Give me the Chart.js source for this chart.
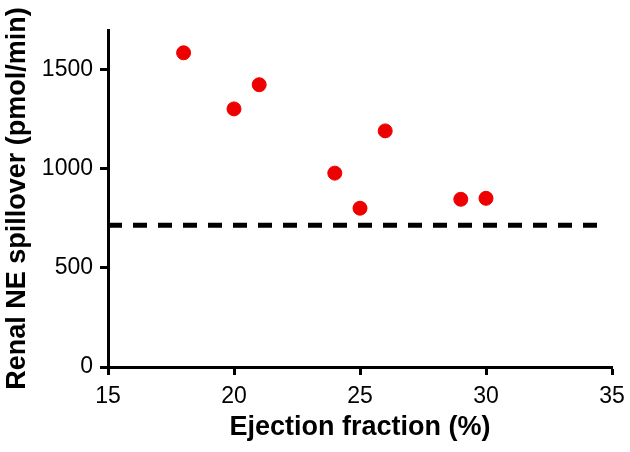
<!DOCTYPE html>
<html>
<head>
<meta charset="utf-8">
<script src="https://cdn.jsdelivr.net/npm/chart.js@4"></script>
<style>
  html, body { margin: 0; padding: 0; background: #fff; }
  #wrap { width: 630px; height: 452px; }
</style>
</head>
<body>
<div id="wrap"><canvas id="chart" width="630" height="452"></canvas></div>
<script>
// Datos
const ejectionFraction = [18, 20, 21, 24, 25, 26, 29, 30]
const neSpillover = [1585, 1302, 1424, 978, 801, 1191, 846, 851]

// Línea de referencia (discontinua)
const refX = [15, 34.6]
const refY = [715, 715]

const xTicks = [15, 20, 25, 30, 35]
const yTicks = [0, 500, 1000, 1500]

const font = 'Liberation Sans, Arial, sans-serif'

const ctx = document.getElementById('chart').getContext('2d')

new Chart(ctx, {
  type: 'scatter',
  data: {
    datasets: [
      {
        label: 'Ref',
        type: 'line',
        data: refX.map((x, i) => ({ x, y: refY[i] })),
        borderColor: '#000',
        borderWidth: 5,
        borderDash: [14, 11],
        pointRadius: 0,
        fill: false,
        order: 2,
      },
      {
        label: 'Pacientes',
        data: ejectionFraction.map((x, i) => ({ x, y: neSpillover[i] })),
        backgroundColor: '#ee0000',
        borderColor: '#ee0000',
        pointRadius: 7,
        order: 1,
      },
    ],
  },
  options: {
    responsive: false,
    animation: false,
    layout: { padding: { top: 30, right: 18, left: 0, bottom: 0 } },
    plugins: {
      legend: { display: false },
      tooltip: { enabled: false },
    },
    scales: {
      x: {
        type: 'linear',
        min: 15,
        max: 35,
        afterBuildTicks: (s) => { s.ticks = xTicks.map((v) => ({ value: v })) },
        afterFit: (s) => {
          s.height = 85
          s.paddingLeft = 0
          s.paddingRight = 0
        },
        border: { display: true, color: '#000', width: 3 },
        grid: { drawOnChartArea: false, drawTicks: true, tickLength: 8, tickWidth: 3, tickColor: '#000' },
        ticks: { color: '#000', font: { family: font, size: 23 }, padding: 8, maxRotation: 0, callback: (v) => String(v) },
        title: {
          display: true,
          text: 'Ejection fraction (%)',
          color: '#000',
          font: { family: font, size: 27, weight: 'bold' },
          padding: { top: 0, bottom: 8 },
        },
      },
      y: {
        min: 0,
        max: 1700,
        afterBuildTicks: (s) => { s.ticks = yTicks.map((v) => ({ value: v })) },
        afterFit: (s) => {
          s.width = 108
          s.paddingTop = 0
          s.paddingBottom = 0
        },
        border: { display: true, color: '#000', width: 3 },
        grid: { drawOnChartArea: false, drawTicks: true, tickLength: 8, tickWidth: 3, tickColor: '#000' },
        ticks: { color: '#000', font: { family: font, size: 23 }, padding: 7, callback: (v) => String(v) },
        title: {
          display: true,
          text: 'Renal NE spillover (pmol/min)',
          color: '#000',
          font: { family: font, size: 27, weight: 'bold' },
          padding: { top: 1, bottom: 0 },
        },
      },
    },
  },
})
</script>
</body>
</html>
